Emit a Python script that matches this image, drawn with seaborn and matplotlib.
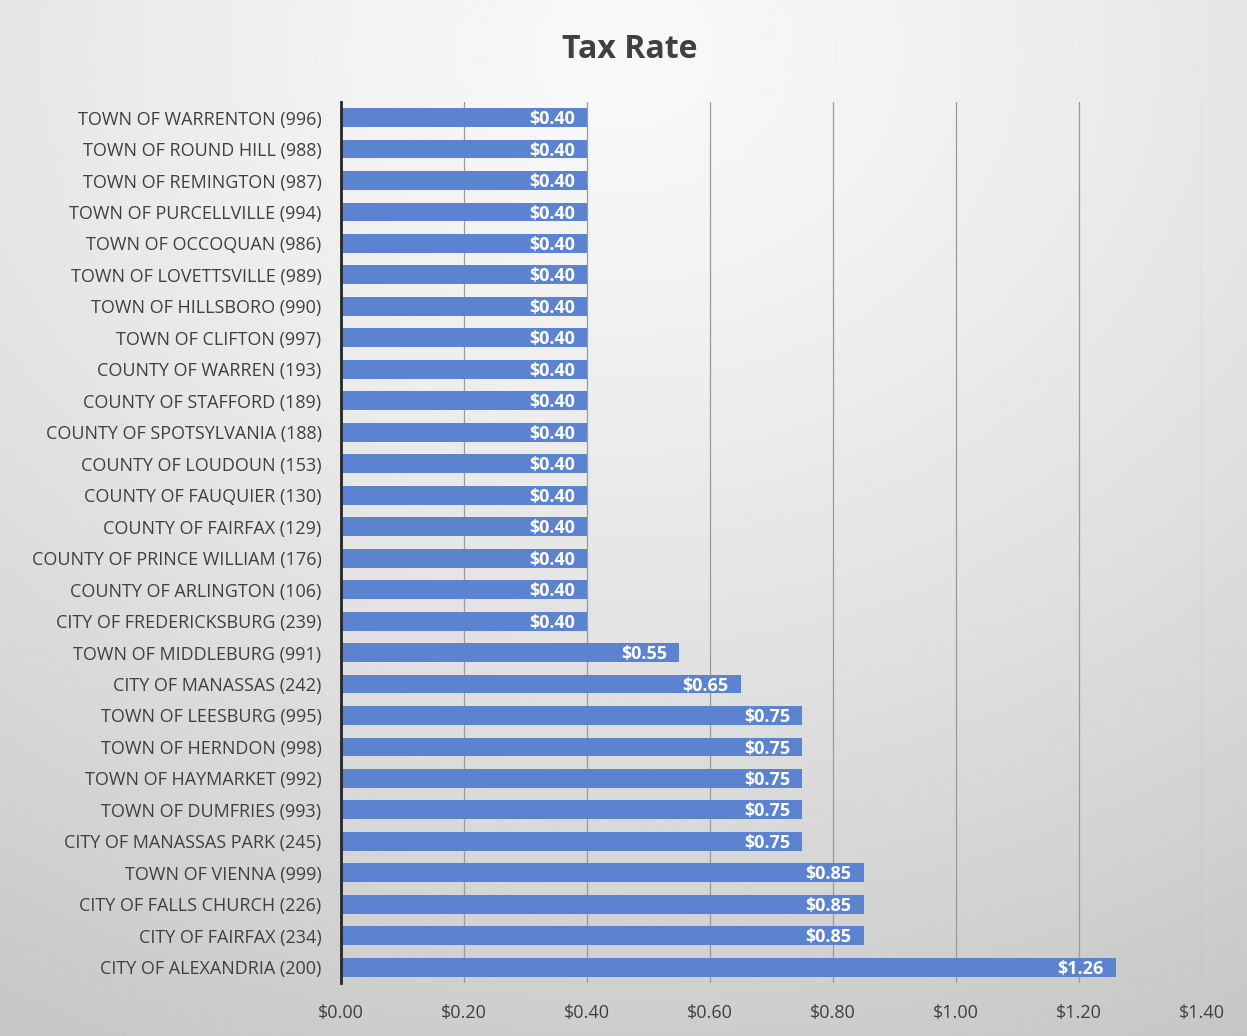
import numpy as np
import pandas as pd
import seaborn as sns
import matplotlib.pyplot as plt
from matplotlib.ticker import FuncFormatter

# Data (top to bottom as shown)
places = [
    "TOWN OF WARRENTON (996)", "TOWN OF ROUND HILL (988)", "TOWN OF REMINGTON (987)",
    "TOWN OF PURCELLVILLE (994)", "TOWN OF OCCOQUAN (986)", "TOWN OF LOVETTSVILLE (989)",
    "TOWN OF HILLSBORO (990)", "TOWN OF CLIFTON (997)", "COUNTY OF WARREN (193)",
    "COUNTY OF STAFFORD (189)", "COUNTY OF SPOTSYLVANIA (188)", "COUNTY OF LOUDOUN (153)",
    "COUNTY OF FAUQUIER (130)", "COUNTY OF FAIRFAX (129)", "COUNTY OF PRINCE WILLIAM (176)",
    "COUNTY OF ARLINGTON (106)", "CITY OF FREDERICKSBURG (239)", "TOWN OF MIDDLEBURG (991)",
    "CITY OF MANASSAS (242)", "TOWN OF LEESBURG (995)", "TOWN OF HERNDON (998)",
    "TOWN OF HAYMARKET (992)", "TOWN OF DUMFRIES (993)", "CITY OF MANASSAS PARK (245)",
    "TOWN OF VIENNA (999)", "CITY OF FALLS CHURCH (226)", "CITY OF FAIRFAX (234)",
    "CITY OF ALEXANDRIA (200)",
]
rates = [0.40] * 17 + [0.55, 0.65, 0.75, 0.75, 0.75, 0.75, 0.75, 0.85, 0.85, 0.85, 1.26]
x_ticks = [0.0, 0.2, 0.4, 0.6, 0.8, 1.0, 1.2, 1.4]

df = pd.DataFrame({"place": places, "rate": rates})

sns.set_style("white")
plt.rcParams['font.family'] = ['Open Sans', 'DejaVu Sans']

fig = plt.figure(figsize=(12.47, 10.36), dpi=100)

# gradient background
bg = fig.add_axes([0, 0, 1, 1], zorder=-10)
h, w = 400, 480
yy, xx = np.mgrid[0:h, 0:w]
cx, cy = w * 0.5, h * 0.05
d = np.sqrt(((xx - cx) / w) ** 2 + ((yy - cy) / h) ** 2)
d = d / d.max()
shade = 0.975 - 0.2 * d ** 1.3
bg.imshow(shade, cmap="gray", vmin=0, vmax=1, aspect="auto", extent=[0, 1, 0, 1])
bg.axis("off")

ax = fig.add_axes([0.2735, 0.0512, 0.6904, 0.8505])
ax.set_facecolor("none")
sns.barplot(data=df, x="rate", y="place", orient="h", color="#5B83D0",
            saturation=1, width=0.6, linewidth=0, ax=ax)

for i, v in enumerate(rates):
    ax.text(v - 0.02, i + 0.05, f"${v:.2f}", ha="right", va="center", color="white",
            fontsize=13, fontweight="bold")

ax.set_xlim(0, 1.4)
ax.set_ylim(len(places) - 0.5, -0.5)
ax.set_xticks(x_ticks)
ax.xaxis.set_major_formatter(FuncFormatter(lambda v, p: f"${v:.2f}"))
ax.grid(axis="x", color="#9a9a9a", linewidth=0.9)
ax.set_axisbelow(True)
ax.tick_params(axis="both", length=0, labelsize=13, colors="#404040")
ax.tick_params(axis="x", pad=15)
ax.tick_params(axis="y", pad=14)
ax.set_xlabel("")
ax.set_ylabel("")
for s in ["top", "right", "bottom"]:
    ax.spines[s].set_visible(False)
ax.spines["left"].set_color("#262626")
ax.spines["left"].set_linewidth(2)

fig.text(0.505, 0.952, "Tax Rate", ha="center", va="center", fontsize=23,
         fontweight="bold", color="#404040")

fig.savefig("out.png", dpi=100)
